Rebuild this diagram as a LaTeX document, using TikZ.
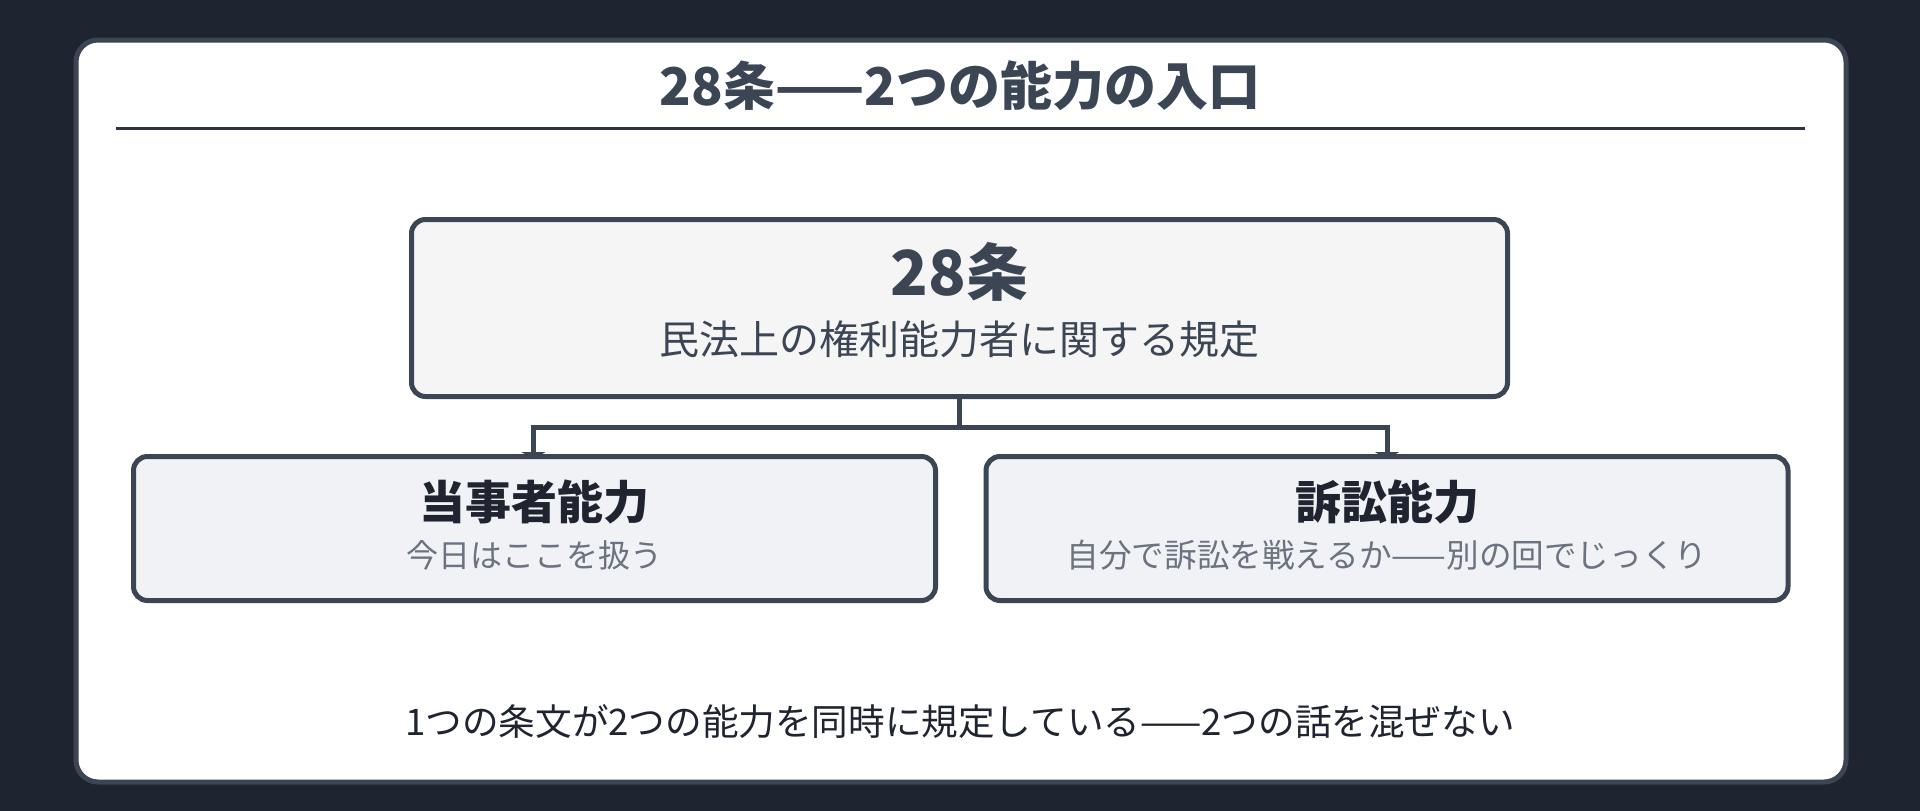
\documentclass[tikz,border=0pt]{standalone}
\usepackage{fontspec}
\setmainfont{Noto Sans CJK JP}
\usetikzlibrary{arrows.meta,calc}
\definecolor{bgdark}{HTML}{1E2530}
\definecolor{slate}{HTML}{3B4554}
\definecolor{rulec}{HTML}{2D3440}
\definecolor{inkdark}{HTML}{1F2430}
\definecolor{subgray}{HTML}{6B7280}
\definecolor{topfill}{HTML}{F5F5F5}
\definecolor{boxfill}{HTML}{F0F2F5}
\tikzset{
  mainbox/.style={draw=slate, line width=5pt, rounded corners=14pt, fill=topfill, inner sep=0pt},
  subbox/.style={draw=slate, line width=5pt, rounded corners=14pt, fill=boxfill, inner sep=0pt},
  lbl/.style={inner sep=0pt, anchor=center},
  conn/.style={draw=slate, line width=5pt},
  tip/.style={-{Triangle[length=7pt,width=24pt]}}
}
\begin{document}
\begin{tikzpicture}[x=1pt,y=-1pt]
\fill[bgdark] (0,0) rectangle (1920,811);
\useasboundingbox (0,0) rectangle (1920,811);
\draw[draw=slate, line width=5pt, fill=white, rounded corners=22pt] (76,40) rectangle (1846,782);
\node[lbl, text=slate, font=\fontsize{52pt}{60pt}\selectfont\bfseries] (title) at (960,86) {28条——2つの能力の入口};
\coordinate (ruleL) at (116,128.5);
\coordinate (ruleR) at (1805,128.5);
\draw[rulec, line width=3pt] (ruleL) -- (ruleR);
% connectors
\coordinate (topS) at (959.5,398);
\coordinate (junc) at (959.5,427.5);
\coordinate (leftN) at (533.5,459);
\coordinate (rightN) at (1387,459);
\draw[conn] (topS) -- (junc);
\draw[conn, tip] (junc) -| (leftN);
\draw[conn, tip] (junc) -| (rightN);
% boxes
\node[mainbox, minimum width=1096pt, minimum height=177pt] (top) at (959.5,308) {};
\node[subbox, minimum width=802pt, minimum height=144pt] (left) at (534.5,528.5) {};
\node[subbox, minimum width=802pt, minimum height=144pt] (right) at (1387,528.5) {};
\node[lbl, text=slate, font=\fontsize{62pt}{72pt}\selectfont\bfseries] (t28) at (959.5,272) {28条};
\node[lbl, text=slate, font=\fontsize{40pt}{48pt}\selectfont] (tsub) at (959.5,339) {民法上の権利能力者に関する規定};
\node[lbl, text=inkdark, font=\fontsize{46pt}{54pt}\selectfont\bfseries] (lhead) at (534.5,502) {当事者能力};
\node[lbl, text=subgray, font=\fontsize{32pt}{38pt}\selectfont] (lsub) at (534.5,555) {今日はここを扱う};
\node[lbl, text=inkdark, font=\fontsize{46pt}{54pt}\selectfont\bfseries] (rhead) at (1387,502) {訴訟能力};
\node[lbl, text=subgray, font=\fontsize{32.6pt}{38pt}\selectfont] (rsub) at (1387,555) {自分で訴訟を戦えるか——別の回でじっくり};
\node[lbl, text=inkdark, font=\fontsize{36.6pt}{44pt}\selectfont] (foot) at (960,722) {1つの条文が2つの能力を同時に規定している——2つの話を混ぜない};
\end{tikzpicture}
\end{document}
